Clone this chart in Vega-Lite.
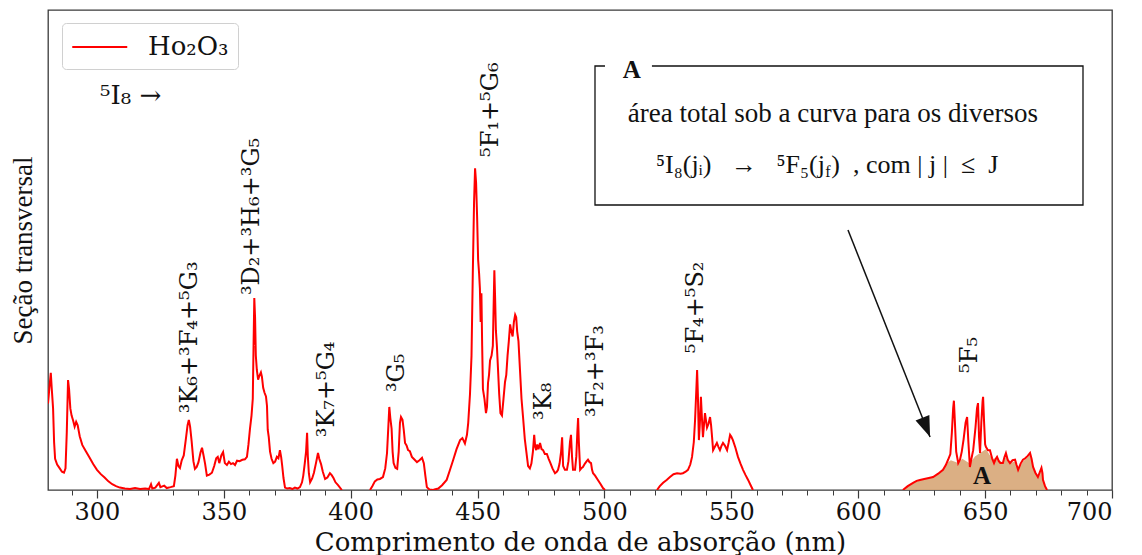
{
  "$schema": "https://vega.github.io/schema/vega-lite/v6.json",
  "width": 1064,
  "height": 480,
  "autosize": {"type": "none"},
  "padding": {"left": 48, "top": 10, "right": 30, "bottom": 65},
  "background": "white",
  "config": {
    "view": {"stroke": "#3a3a3a", "strokeWidth": 1.3},
    "font": "DejaVu Serif"
  },
  "datasets": {
    "spectrum": [
      {"seg": 1, "nm": 280.7, "sigma": 18}, {"seg": 1, "nm": 281.2, "sigma": 21}, {"seg": 1, "nm": 281.8, "sigma": 24.4},
      {"seg": 1, "nm": 282.2, "sigma": 21}, {"seg": 1, "nm": 282.7, "sigma": 17}, {"seg": 1, "nm": 283.1, "sigma": 10},
      {"seg": 1, "nm": 283.5, "sigma": 6.5}, {"seg": 1, "nm": 284.3, "sigma": 5.3}, {"seg": 1, "nm": 285.2, "sigma": 4.6},
      {"seg": 1, "nm": 286.2, "sigma": 3.8}, {"seg": 1, "nm": 287.0, "sigma": 3.6}, {"seg": 1, "nm": 287.6, "sigma": 4.5},
      {"seg": 1, "nm": 288.1, "sigma": 12}, {"seg": 1, "nm": 288.6, "sigma": 22.9}, {"seg": 1, "nm": 289.0, "sigma": 21},
      {"seg": 1, "nm": 289.5, "sigma": 17}, {"seg": 1, "nm": 290.0, "sigma": 15.5}, {"seg": 1, "nm": 290.6, "sigma": 14.5},
      {"seg": 1, "nm": 291.2, "sigma": 13.2}, {"seg": 1, "nm": 291.8, "sigma": 14.2}, {"seg": 1, "nm": 292.4, "sigma": 13.5},
      {"seg": 1, "nm": 293.2, "sigma": 11.2}, {"seg": 1, "nm": 294.2, "sigma": 9.4}, {"seg": 1, "nm": 295.5, "sigma": 8.2},
      {"seg": 1, "nm": 297.0, "sigma": 6.8}, {"seg": 1, "nm": 298.5, "sigma": 5.4}, {"seg": 1, "nm": 300.0, "sigma": 4.2},
      {"seg": 1, "nm": 301.5, "sigma": 3.3}, {"seg": 1, "nm": 303.0, "sigma": 2.6}, {"seg": 1, "nm": 304.5, "sigma": 1.8},
      {"seg": 1, "nm": 306.0, "sigma": 1.2}, {"seg": 1, "nm": 307.5, "sigma": 0.8}, {"seg": 1, "nm": 309.0, "sigma": 0.5},
      {"seg": 1, "nm": 311.0, "sigma": 0.3}, {"seg": 1, "nm": 313.0, "sigma": 0.2}, {"seg": 1, "nm": 315.0, "sigma": 0.4},
      {"seg": 1, "nm": 317.0, "sigma": 0.2}, {"seg": 1, "nm": 319.0, "sigma": 0.3}, {"seg": 1, "nm": 320.5, "sigma": 0.2},
      {"seg": 1, "nm": 321.3, "sigma": 1.2}, {"seg": 1, "nm": 321.8, "sigma": 0.3}, {"seg": 1, "nm": 323.0, "sigma": 0.5},
      {"seg": 1, "nm": 324.4, "sigma": 1.5}, {"seg": 1, "nm": 325.0, "sigma": 0.6}, {"seg": 1, "nm": 326.5, "sigma": 0.9},
      {"seg": 1, "nm": 327.5, "sigma": 0.4}, {"seg": 1, "nm": 329.0, "sigma": 0.6}, {"seg": 1, "nm": 330.3, "sigma": 0.8},
      {"seg": 1, "nm": 330.9, "sigma": 3}, {"seg": 1, "nm": 331.5, "sigma": 6.5}, {"seg": 1, "nm": 332.1, "sigma": 5},
      {"seg": 1, "nm": 332.7, "sigma": 4.6}, {"seg": 1, "nm": 333.4, "sigma": 6.2}, {"seg": 1, "nm": 334.2, "sigma": 7.2},
      {"seg": 1, "nm": 335.0, "sigma": 10.5}, {"seg": 1, "nm": 335.7, "sigma": 13.5}, {"seg": 1, "nm": 336.2, "sigma": 14.6},
      {"seg": 1, "nm": 336.7, "sigma": 13.2}, {"seg": 1, "nm": 337.3, "sigma": 10.2}, {"seg": 1, "nm": 338.0, "sigma": 6},
      {"seg": 1, "nm": 338.6, "sigma": 4.4}, {"seg": 1, "nm": 339.3, "sigma": 4.8}, {"seg": 1, "nm": 340.0, "sigma": 5.8},
      {"seg": 1, "nm": 340.8, "sigma": 7.8}, {"seg": 1, "nm": 341.4, "sigma": 8.8}, {"seg": 1, "nm": 342.0, "sigma": 7.2},
      {"seg": 1, "nm": 342.6, "sigma": 5.5}, {"seg": 1, "nm": 343.3, "sigma": 3}, {"seg": 1, "nm": 344.3, "sigma": 3.2},
      {"seg": 1, "nm": 345.3, "sigma": 3.6}, {"seg": 1, "nm": 346.2, "sigma": 5}, {"seg": 1, "nm": 347.0, "sigma": 6.6},
      {"seg": 1, "nm": 347.6, "sigma": 6.9}, {"seg": 1, "nm": 348.2, "sigma": 5.6}, {"seg": 1, "nm": 349.0, "sigma": 7.2},
      {"seg": 1, "nm": 349.7, "sigma": 7.9}, {"seg": 1, "nm": 350.4, "sigma": 5.6}, {"seg": 1, "nm": 351.2, "sigma": 5.2},
      {"seg": 1, "nm": 352.0, "sigma": 5.9}, {"seg": 1, "nm": 352.8, "sigma": 5.4}, {"seg": 1, "nm": 353.6, "sigma": 5.6},
      {"seg": 1, "nm": 354.4, "sigma": 5.2}, {"seg": 1, "nm": 355.2, "sigma": 6.1}, {"seg": 1, "nm": 356.2, "sigma": 6},
      {"seg": 1, "nm": 357.3, "sigma": 6.3}, {"seg": 1, "nm": 358.3, "sigma": 6.4}, {"seg": 1, "nm": 359.1, "sigma": 6.9},
      {"seg": 1, "nm": 359.7, "sigma": 9.5}, {"seg": 1, "nm": 360.3, "sigma": 12.8}, {"seg": 1, "nm": 360.9, "sigma": 15.5},
      {"seg": 1, "nm": 361.4, "sigma": 19}, {"seg": 1, "nm": 361.7, "sigma": 30}, {"seg": 1, "nm": 362.0, "sigma": 40},
      {"seg": 1, "nm": 362.3, "sigma": 36}, {"seg": 1, "nm": 362.6, "sigma": 28}, {"seg": 1, "nm": 363.0, "sigma": 25},
      {"seg": 1, "nm": 363.5, "sigma": 23}, {"seg": 1, "nm": 364.0, "sigma": 23.8}, {"seg": 1, "nm": 364.6, "sigma": 24.5},
      {"seg": 1, "nm": 365.0, "sigma": 23.6}, {"seg": 1, "nm": 365.5, "sigma": 21.3}, {"seg": 1, "nm": 366.0, "sigma": 20.3},
      {"seg": 1, "nm": 366.6, "sigma": 19.5}, {"seg": 1, "nm": 367.0, "sigma": 17.5}, {"seg": 1, "nm": 367.3, "sigma": 12.5},
      {"seg": 1, "nm": 367.7, "sigma": 11}, {"seg": 1, "nm": 368.2, "sigma": 8}, {"seg": 1, "nm": 368.8, "sigma": 6.5},
      {"seg": 1, "nm": 369.5, "sigma": 5.6}, {"seg": 1, "nm": 370.2, "sigma": 5.9}, {"seg": 1, "nm": 370.9, "sigma": 6.9},
      {"seg": 1, "nm": 371.5, "sigma": 6.6}, {"seg": 1, "nm": 372.1, "sigma": 8.3}, {"seg": 1, "nm": 372.6, "sigma": 6.8},
      {"seg": 1, "nm": 373.0, "sigma": 5}, {"seg": 1, "nm": 373.5, "sigma": 2.5}, {"seg": 1, "nm": 374.1, "sigma": 0.5},
      {"seg": 1, "nm": 375.0, "sigma": 0.3}, {"seg": 1, "nm": 376.0, "sigma": 0.4}, {"seg": 1, "nm": 377.0, "sigma": 0.2},
      {"seg": 1, "nm": 378.0, "sigma": 0.5}, {"seg": 1, "nm": 379.0, "sigma": 0.3}, {"seg": 1, "nm": 380.0, "sigma": 0.6},
      {"seg": 1, "nm": 380.8, "sigma": 1.6}, {"seg": 1, "nm": 381.3, "sigma": 3}, {"seg": 1, "nm": 381.9, "sigma": 5.6},
      {"seg": 1, "nm": 382.4, "sigma": 8}, {"seg": 1, "nm": 382.8, "sigma": 11.9}, {"seg": 1, "nm": 383.1, "sigma": 7},
      {"seg": 1, "nm": 383.5, "sigma": 3.5}, {"seg": 1, "nm": 384.0, "sigma": 1.6}, {"seg": 1, "nm": 384.8, "sigma": 2.4},
      {"seg": 1, "nm": 385.5, "sigma": 3.6}, {"seg": 1, "nm": 386.3, "sigma": 5.6}, {"seg": 1, "nm": 387.1, "sigma": 7.7},
      {"seg": 1, "nm": 387.6, "sigma": 6.5}, {"seg": 1, "nm": 388.3, "sigma": 5.4}, {"seg": 1, "nm": 389.0, "sigma": 3.8},
      {"seg": 1, "nm": 389.9, "sigma": 2.3}, {"seg": 1, "nm": 390.8, "sigma": 2.6}, {"seg": 1, "nm": 391.8, "sigma": 3.5},
      {"seg": 1, "nm": 392.5, "sigma": 3.1}, {"seg": 1, "nm": 393.2, "sigma": 2.5}, {"seg": 1, "nm": 394.0, "sigma": 1.6},
      {"seg": 1, "nm": 395.0, "sigma": 1.0}, {"seg": 1, "nm": 396.5, "sigma": 0},

      {"seg": 2, "nm": 407.6, "sigma": 0}, {"seg": 2, "nm": 408.5, "sigma": 0.8}, {"seg": 2, "nm": 409.5, "sigma": 1.8},
      {"seg": 2, "nm": 410.5, "sigma": 2.2}, {"seg": 2, "nm": 411.5, "sigma": 2.3}, {"seg": 2, "nm": 412.7, "sigma": 2.7},
      {"seg": 2, "nm": 413.6, "sigma": 4.5}, {"seg": 2, "nm": 414.3, "sigma": 7.7}, {"seg": 2, "nm": 414.8, "sigma": 13},
      {"seg": 2, "nm": 415.2, "sigma": 17.3}, {"seg": 2, "nm": 415.6, "sigma": 15}, {"seg": 2, "nm": 416.1, "sigma": 12.8},
      {"seg": 2, "nm": 416.5, "sigma": 8}, {"seg": 2, "nm": 416.9, "sigma": 5.6}, {"seg": 2, "nm": 417.6, "sigma": 4.6},
      {"seg": 2, "nm": 418.3, "sigma": 4.4}, {"seg": 2, "nm": 418.9, "sigma": 8}, {"seg": 2, "nm": 419.4, "sigma": 14},
      {"seg": 2, "nm": 419.8, "sigma": 15.2}, {"seg": 2, "nm": 420.4, "sigma": 14.6}, {"seg": 2, "nm": 420.9, "sigma": 12.5},
      {"seg": 2, "nm": 421.4, "sigma": 9.8}, {"seg": 2, "nm": 422.0, "sigma": 9.3}, {"seg": 2, "nm": 422.6, "sigma": 8.3},
      {"seg": 2, "nm": 423.3, "sigma": 8.1}, {"seg": 2, "nm": 424.1, "sigma": 6.9}, {"seg": 2, "nm": 425.0, "sigma": 6.4},
      {"seg": 2, "nm": 426.1, "sigma": 5.8}, {"seg": 2, "nm": 427.1, "sigma": 6.2}, {"seg": 2, "nm": 428.1, "sigma": 6.7},
      {"seg": 2, "nm": 428.8, "sigma": 5.6}, {"seg": 2, "nm": 429.4, "sigma": 3}, {"seg": 2, "nm": 430.0, "sigma": 0.6},
      {"seg": 2, "nm": 431.0, "sigma": 0.1}, {"seg": 2, "nm": 432.5, "sigma": 0}, {"seg": 2, "nm": 433.0, "sigma": 0.1},
      {"seg": 2, "nm": 434.5, "sigma": 0.3}, {"seg": 2, "nm": 436.0, "sigma": 1}, {"seg": 2, "nm": 437.8, "sigma": 2.1},
      {"seg": 2, "nm": 439.0, "sigma": 4}, {"seg": 2, "nm": 440.4, "sigma": 6.3}, {"seg": 2, "nm": 441.7, "sigma": 8.5},
      {"seg": 2, "nm": 443.1, "sigma": 10.4}, {"seg": 2, "nm": 444.0, "sigma": 10.8}, {"seg": 2, "nm": 445.0, "sigma": 9.7},
      {"seg": 2, "nm": 445.8, "sigma": 11.5}, {"seg": 2, "nm": 446.3, "sigma": 14}, {"seg": 2, "nm": 447.0, "sigma": 20},
      {"seg": 2, "nm": 447.6, "sigma": 28}, {"seg": 2, "nm": 448.1, "sigma": 45}, {"seg": 2, "nm": 448.6, "sigma": 60},
      {"seg": 2, "nm": 449.0, "sigma": 67}, {"seg": 2, "nm": 449.4, "sigma": 64}, {"seg": 2, "nm": 449.8, "sigma": 57},
      {"seg": 2, "nm": 450.2, "sigma": 48}, {"seg": 2, "nm": 450.6, "sigma": 45}, {"seg": 2, "nm": 450.9, "sigma": 42},
      {"seg": 2, "nm": 451.2, "sigma": 35}, {"seg": 2, "nm": 451.5, "sigma": 41}, {"seg": 2, "nm": 451.8, "sigma": 30},
      {"seg": 2, "nm": 452.1, "sigma": 21}, {"seg": 2, "nm": 452.7, "sigma": 19}, {"seg": 2, "nm": 453.3, "sigma": 16},
      {"seg": 2, "nm": 453.7, "sigma": 17.3}, {"seg": 2, "nm": 454.1, "sigma": 22.3}, {"seg": 2, "nm": 454.5, "sigma": 24},
      {"seg": 2, "nm": 454.9, "sigma": 27}, {"seg": 2, "nm": 455.5, "sigma": 28}, {"seg": 2, "nm": 456.0, "sigma": 30},
      {"seg": 2, "nm": 456.3, "sigma": 38}, {"seg": 2, "nm": 456.6, "sigma": 45.8}, {"seg": 2, "nm": 456.9, "sigma": 40},
      {"seg": 2, "nm": 457.2, "sigma": 33.3}, {"seg": 2, "nm": 457.6, "sigma": 30}, {"seg": 2, "nm": 458.0, "sigma": 25.6},
      {"seg": 2, "nm": 458.5, "sigma": 20}, {"seg": 2, "nm": 459.0, "sigma": 16}, {"seg": 2, "nm": 459.6, "sigma": 15.5},
      {"seg": 2, "nm": 460.2, "sigma": 19}, {"seg": 2, "nm": 460.8, "sigma": 22.5}, {"seg": 2, "nm": 461.3, "sigma": 24},
      {"seg": 2, "nm": 461.8, "sigma": 28}, {"seg": 2, "nm": 462.3, "sigma": 31}, {"seg": 2, "nm": 462.8, "sigma": 34.5},
      {"seg": 2, "nm": 463.3, "sigma": 33}, {"seg": 2, "nm": 463.8, "sigma": 32}, {"seg": 2, "nm": 464.3, "sigma": 35},
      {"seg": 2, "nm": 464.8, "sigma": 36.5}, {"seg": 2, "nm": 465.2, "sigma": 36}, {"seg": 2, "nm": 465.6, "sigma": 33},
      {"seg": 2, "nm": 466.1, "sigma": 31}, {"seg": 2, "nm": 466.7, "sigma": 25}, {"seg": 2, "nm": 467.3, "sigma": 19},
      {"seg": 2, "nm": 467.9, "sigma": 15.2}, {"seg": 2, "nm": 468.6, "sigma": 10.6}, {"seg": 2, "nm": 469.2, "sigma": 8},
      {"seg": 2, "nm": 469.9, "sigma": 5}, {"seg": 2, "nm": 470.6, "sigma": 4.5}, {"seg": 2, "nm": 471.2, "sigma": 5.5},
      {"seg": 2, "nm": 471.8, "sigma": 8}, {"seg": 2, "nm": 472.3, "sigma": 11.5}, {"seg": 2, "nm": 472.7, "sigma": 9},
      {"seg": 2, "nm": 473.1, "sigma": 8.3}, {"seg": 2, "nm": 473.5, "sigma": 9.5}, {"seg": 2, "nm": 474.0, "sigma": 8.5},
      {"seg": 2, "nm": 474.6, "sigma": 9.8}, {"seg": 2, "nm": 475.2, "sigma": 8.5}, {"seg": 2, "nm": 475.8, "sigma": 8.3},
      {"seg": 2, "nm": 476.5, "sigma": 7.5}, {"seg": 2, "nm": 477.3, "sigma": 7.5}, {"seg": 2, "nm": 478.0, "sigma": 6.5},
      {"seg": 2, "nm": 478.7, "sigma": 5.6}, {"seg": 2, "nm": 479.5, "sigma": 4.5}, {"seg": 2, "nm": 480.5, "sigma": 3.5},
      {"seg": 2, "nm": 481.2, "sigma": 3.8}, {"seg": 2, "nm": 481.7, "sigma": 4.2}, {"seg": 2, "nm": 482.3, "sigma": 5.5},
      {"seg": 2, "nm": 482.9, "sigma": 8}, {"seg": 2, "nm": 483.3, "sigma": 11}, {"seg": 2, "nm": 483.7, "sigma": 5},
      {"seg": 2, "nm": 484.4, "sigma": 4.2}, {"seg": 2, "nm": 485.2, "sigma": 4.2}, {"seg": 2, "nm": 485.8, "sigma": 6},
      {"seg": 2, "nm": 486.4, "sigma": 10}, {"seg": 2, "nm": 486.8, "sigma": 11.5}, {"seg": 2, "nm": 487.2, "sigma": 7},
      {"seg": 2, "nm": 487.6, "sigma": 4.2}, {"seg": 2, "nm": 488.4, "sigma": 4.2}, {"seg": 2, "nm": 488.9, "sigma": 7},
      {"seg": 2, "nm": 489.3, "sigma": 12}, {"seg": 2, "nm": 489.6, "sigma": 15}, {"seg": 2, "nm": 489.9, "sigma": 10},
      {"seg": 2, "nm": 490.4, "sigma": 4.2}, {"seg": 2, "nm": 491.0, "sigma": 4.6}, {"seg": 2, "nm": 491.5, "sigma": 4.8},
      {"seg": 2, "nm": 492.3, "sigma": 5.5}, {"seg": 2, "nm": 493.0, "sigma": 6}, {"seg": 2, "nm": 493.5, "sigma": 6.3},
      {"seg": 2, "nm": 494.1, "sigma": 5.8}, {"seg": 2, "nm": 494.7, "sigma": 5.6}, {"seg": 2, "nm": 495.1, "sigma": 4.2},
      {"seg": 2, "nm": 495.5, "sigma": 3.5}, {"seg": 2, "nm": 496.3, "sigma": 3}, {"seg": 2, "nm": 497.4, "sigma": 2.1},
      {"seg": 2, "nm": 498.5, "sigma": 1.2}, {"seg": 2, "nm": 499.4, "sigma": 0.4}, {"seg": 2, "nm": 500.2, "sigma": 0},

      {"seg": 3, "nm": 520.7, "sigma": 0}, {"seg": 3, "nm": 521.8, "sigma": 0.8}, {"seg": 3, "nm": 523.1, "sigma": 1.5},
      {"seg": 3, "nm": 524.5, "sigma": 2.1}, {"seg": 3, "nm": 525.8, "sigma": 2.7}, {"seg": 3, "nm": 527.2, "sigma": 3.3},
      {"seg": 3, "nm": 528.6, "sigma": 3.5}, {"seg": 3, "nm": 530.0, "sigma": 3.4}, {"seg": 3, "nm": 530.9, "sigma": 3.5},
      {"seg": 3, "nm": 532.0, "sigma": 3.8}, {"seg": 3, "nm": 532.9, "sigma": 4.2}, {"seg": 3, "nm": 533.8, "sigma": 5.3},
      {"seg": 3, "nm": 534.5, "sigma": 6.9}, {"seg": 3, "nm": 535.2, "sigma": 10}, {"seg": 3, "nm": 535.7, "sigma": 14.6},
      {"seg": 3, "nm": 536.2, "sigma": 21}, {"seg": 3, "nm": 536.5, "sigma": 25}, {"seg": 3, "nm": 536.8, "sigma": 20},
      {"seg": 3, "nm": 537.0, "sigma": 15}, {"seg": 3, "nm": 537.2, "sigma": 10.4}, {"seg": 3, "nm": 537.6, "sigma": 14},
      {"seg": 3, "nm": 538.0, "sigma": 19.4}, {"seg": 3, "nm": 538.4, "sigma": 15}, {"seg": 3, "nm": 538.8, "sigma": 11},
      {"seg": 3, "nm": 539.2, "sigma": 13.5}, {"seg": 3, "nm": 539.6, "sigma": 16}, {"seg": 3, "nm": 540.0, "sigma": 14.5},
      {"seg": 3, "nm": 540.4, "sigma": 13}, {"seg": 3, "nm": 541.0, "sigma": 13.8}, {"seg": 3, "nm": 541.6, "sigma": 15.2},
      {"seg": 3, "nm": 542.0, "sigma": 13.5}, {"seg": 3, "nm": 542.4, "sigma": 11}, {"seg": 3, "nm": 542.8, "sigma": 8.3},
      {"seg": 3, "nm": 543.5, "sigma": 9}, {"seg": 3, "nm": 544.3, "sigma": 9.8}, {"seg": 3, "nm": 544.9, "sigma": 9},
      {"seg": 3, "nm": 545.5, "sigma": 8.3}, {"seg": 3, "nm": 546.1, "sigma": 9.2}, {"seg": 3, "nm": 546.7, "sigma": 9.8},
      {"seg": 3, "nm": 547.5, "sigma": 9.2}, {"seg": 3, "nm": 548.3, "sigma": 8.3}, {"seg": 3, "nm": 548.9, "sigma": 9.8},
      {"seg": 3, "nm": 549.5, "sigma": 11.5}, {"seg": 3, "nm": 550.0, "sigma": 11.1}, {"seg": 3, "nm": 550.6, "sigma": 10.4},
      {"seg": 3, "nm": 551.6, "sigma": 8.8}, {"seg": 3, "nm": 552.6, "sigma": 6.9}, {"seg": 3, "nm": 553.6, "sigma": 5.5},
      {"seg": 3, "nm": 554.6, "sigma": 4.2}, {"seg": 3, "nm": 555.6, "sigma": 3.1}, {"seg": 3, "nm": 556.6, "sigma": 2.1},
      {"seg": 3, "nm": 557.6, "sigma": 1}, {"seg": 3, "nm": 558.5, "sigma": 0},

      {"seg": 4, "nm": 617.6, "sigma": 0}, {"seg": 4, "nm": 619.5, "sigma": 0.8}, {"seg": 4, "nm": 621.6, "sigma": 1.5},
      {"seg": 4, "nm": 623.0, "sigma": 1.9}, {"seg": 4, "nm": 624.3, "sigma": 2.1}, {"seg": 4, "nm": 626.0, "sigma": 2.3},
      {"seg": 4, "nm": 627.8, "sigma": 2.5}, {"seg": 4, "nm": 629.5, "sigma": 2.7}, {"seg": 4, "nm": 631.5, "sigma": 3.4},
      {"seg": 4, "nm": 633.4, "sigma": 4.2}, {"seg": 4, "nm": 634.5, "sigma": 5.2}, {"seg": 4, "nm": 635.4, "sigma": 6.3},
      {"seg": 4, "nm": 636.3, "sigma": 7.5}, {"seg": 4, "nm": 636.9, "sigma": 12}, {"seg": 4, "nm": 637.4, "sigma": 17},
      {"seg": 4, "nm": 637.7, "sigma": 18.6}, {"seg": 4, "nm": 638.1, "sigma": 14}, {"seg": 4, "nm": 638.6, "sigma": 8},
      {"seg": 4, "nm": 639.4, "sigma": 5.6}, {"seg": 4, "nm": 640.1, "sigma": 6.3}, {"seg": 4, "nm": 640.8, "sigma": 8},
      {"seg": 4, "nm": 641.5, "sigma": 10.5}, {"seg": 4, "nm": 642.3, "sigma": 14}, {"seg": 4, "nm": 642.9, "sigma": 15.2},
      {"seg": 4, "nm": 643.4, "sigma": 10}, {"seg": 4, "nm": 644.0, "sigma": 4.8}, {"seg": 4, "nm": 644.6, "sigma": 6.5},
      {"seg": 4, "nm": 645.3, "sigma": 8.3}, {"seg": 4, "nm": 646.2, "sigma": 13}, {"seg": 4, "nm": 646.8, "sigma": 17},
      {"seg": 4, "nm": 647.2, "sigma": 18.1}, {"seg": 4, "nm": 647.6, "sigma": 11}, {"seg": 4, "nm": 648.0, "sigma": 7.7},
      {"seg": 4, "nm": 648.5, "sigma": 14}, {"seg": 4, "nm": 649.0, "sigma": 18.5}, {"seg": 4, "nm": 649.2, "sigma": 19.4},
      {"seg": 4, "nm": 649.6, "sigma": 14}, {"seg": 4, "nm": 650.0, "sigma": 9.5}, {"seg": 4, "nm": 650.3, "sigma": 9},
      {"seg": 4, "nm": 651.1, "sigma": 8.3}, {"seg": 4, "nm": 651.9, "sigma": 8.3}, {"seg": 4, "nm": 652.8, "sigma": 6.5},
      {"seg": 4, "nm": 653.5, "sigma": 5.6}, {"seg": 4, "nm": 654.1, "sigma": 6.4}, {"seg": 4, "nm": 654.7, "sigma": 6.9},
      {"seg": 4, "nm": 655.4, "sigma": 6}, {"seg": 4, "nm": 656.0, "sigma": 5.6}, {"seg": 4, "nm": 657.0, "sigma": 5.6},
      {"seg": 4, "nm": 657.6, "sigma": 6.8}, {"seg": 4, "nm": 658.2, "sigma": 7.7}, {"seg": 4, "nm": 658.9, "sigma": 6.3},
      {"seg": 4, "nm": 659.8, "sigma": 5.6}, {"seg": 4, "nm": 660.8, "sigma": 6.2}, {"seg": 4, "nm": 661.8, "sigma": 6.3},
      {"seg": 4, "nm": 662.4, "sigma": 5.2}, {"seg": 4, "nm": 663.0, "sigma": 4.2}, {"seg": 4, "nm": 664.0, "sigma": 5.5},
      {"seg": 4, "nm": 664.9, "sigma": 6.3}, {"seg": 4, "nm": 665.8, "sigma": 6.6}, {"seg": 4, "nm": 666.8, "sigma": 7.1},
      {"seg": 4, "nm": 667.7, "sigma": 7.7}, {"seg": 4, "nm": 668.3, "sigma": 6.5}, {"seg": 4, "nm": 668.9, "sigma": 4.8},
      {"seg": 4, "nm": 669.8, "sigma": 3.6}, {"seg": 4, "nm": 670.8, "sigma": 2.7}, {"seg": 4, "nm": 671.6, "sigma": 3.8},
      {"seg": 4, "nm": 672.2, "sigma": 4.6}, {"seg": 4, "nm": 672.6, "sigma": 3.5}, {"seg": 4, "nm": 672.8, "sigma": 2.1},
      {"seg": 4, "nm": 673.6, "sigma": 0.8}, {"seg": 4, "nm": 674.4, "sigma": 0}
    ],
    "areaA": [
      {"nm": 617.6, "sigma": 0}, {"nm": 621.6, "sigma": 1.5}, {"nm": 625.0, "sigma": 2.2}, {"nm": 629.5, "sigma": 2.7},
      {"nm": 633.4, "sigma": 4.2}, {"nm": 635.4, "sigma": 5.8}, {"nm": 636.5, "sigma": 6.2}, {"nm": 639.4, "sigma": 5.6},
      {"nm": 641.0, "sigma": 6.5}, {"nm": 644.0, "sigma": 5.5}, {"nm": 646.0, "sigma": 7}, {"nm": 648.0, "sigma": 7.7},
      {"nm": 650.3, "sigma": 8.5}, {"nm": 652.8, "sigma": 6.5}, {"nm": 654.7, "sigma": 6.6}, {"nm": 657.0, "sigma": 5.6},
      {"nm": 658.2, "sigma": 7}, {"nm": 660.0, "sigma": 5.6}, {"nm": 662.0, "sigma": 6}, {"nm": 663.0, "sigma": 4.2},
      {"nm": 665.0, "sigma": 6}, {"nm": 667.7, "sigma": 7.3}, {"nm": 668.9, "sigma": 4.8}, {"nm": 670.8, "sigma": 2.7},
      {"nm": 672.2, "sigma": 4.3}, {"nm": 672.8, "sigma": 2.1}, {"nm": 674.4, "sigma": 0}
    ],
    "transitions": [
      {"nm": 336.5, "sigma": 16.0, "label": "³K₆+³F₄+⁵G₃"},
      {"nm": 361.1, "sigma": 40.6, "label": "³D₂+³H₆+³G₅"},
      {"nm": 390.6, "sigma": 11.0, "label": "³K₇+⁵G₄"},
      {"nm": 418.2, "sigma": 20.4, "label": "³G₅"},
      {"nm": 455.3, "sigma": 69.4, "label": "⁵F₁+⁵G₆"},
      {"nm": 476.2, "sigma": 14.6, "label": "³K₈"},
      {"nm": 496.7, "sigma": 15.2, "label": "³F₂+³F₃"},
      {"nm": 536.1, "sigma": 28.5, "label": "⁵F₄+⁵S₂"},
      {"nm": 644.0, "sigma": 24.4, "label": "⁵F₅"}
    ],
    "frameA": [
      {"k": 1, "nm": 500.2, "sigma": 88.33},
      {"k": 2, "nm": 496.26, "sigma": 88.33},
      {"k": 3, "nm": 496.26, "sigma": 59.38},
      {"k": 4, "nm": 688.57, "sigma": 59.38},
      {"k": 5, "nm": 688.57, "sigma": 88.33},
      {"k": 6, "nm": 518.7, "sigma": 88.33}
    ],
    "arrow": [
      {"nm0": 595.96, "s0": 54.17, "nm1": 628.3, "s1": 11.04}
    ]
  },
  "layer": [
    {
      "data": {"name": "areaA"},
      "mark": {"type": "area", "color": "#d7a677", "opacity": 0.9},
      "encoding": {
        "x": {
          "field": "nm", "type": "quantitative",
          "scale": {"domain": [280.7, 700], "nice": false, "zero": false},
          "axis": {
            "orient": "bottom", "values": [290, 300, 310, 320, 330, 340, 350, 360, 370, 380, 390, 400, 410, 420, 430, 440, 450, 460, 470, 480, 490, 500, 510, 520, 530, 540, 550, 560, 570, 580, 590, 600, 610, 620, 630, 640, 650, 660, 670, 680, 690, 700],
            "labels": false, "domain": false, "grid": false, "title": null,
            "tickSize": 5, "tickColor": "#3a3a3a", "tickWidth": 1
          }
        },
        "y": {
          "field": "sigma", "type": "quantitative",
          "scale": {"domain": [0, 100], "nice": false},
          "axis": null
        }
      }
    },
    {
      "data": {"name": "spectrum"},
      "mark": {"type": "line", "strokeWidth": 2, "clip": true},
      "encoding": {
        "x": {
          "field": "nm", "type": "quantitative",
          "axis": {
            "orient": "bottom", "values": [300, 350, 400, 450, 500, 550, 600, 650, 700],
            "domain": false, "grid": false,
            "tickSize": 8, "tickColor": "#3a3a3a", "tickWidth": 1.2,
            "labelFont": "DejaVu Serif", "labelFontSize": 24, "labelColor": "#111", "labelPadding": 2,
            "title": "Comprimento de onda de absorção (nm)",
            "titleFont": "DejaVu Serif", "titleFontSize": 26, "titleFontWeight": "normal", "titleColor": "#111", "titlePadding": 5
          }
        },
        "y": {
          "field": "sigma", "type": "quantitative",
          "axis": {
            "orient": "left", "ticks": false, "labels": false, "domain": false, "grid": false,
            "title": "Seção transversal", "titleFont": "Liberation Serif", "titleFontSize": 27,
            "titleFontWeight": "normal", "titleColor": "#111", "titlePadding": 11
          }
        },
        "detail": {"field": "seg", "type": "nominal"},
        "color": {
          "datum": "Ho₂O₃", "type": "nominal",
          "scale": {"range": ["#ff0000"]},
          "legend": {
            "title": null, "orient": "none", "legendX": 14, "legendY": 13,
            "symbolType": "M-1,0L3,0", "symbolSize": 756, "symbolStrokeWidth": 2,
            "labelFont": "DejaVu Serif", "labelFontSize": 26, "labelColor": "#111", "labelOffset": 47,
            "padding": 9, "strokeColor": "#d0d0d0", "fillColor": "white", "cornerRadius": 4
          }
        }
      }
    },
    {
      "data": {"name": "frameA"},
      "mark": {"type": "line", "color": "#111", "strokeWidth": 1.3},
      "encoding": {
        "x": {"field": "nm", "type": "quantitative", "axis": null},
        "y": {"field": "sigma", "type": "quantitative", "axis": null},
        "order": {"field": "k", "type": "quantitative"}
      }
    },
    {
      "data": {"name": "arrow"},
      "mark": {"type": "rule", "color": "#111", "strokeWidth": 1.5},
      "encoding": {
        "x": {"field": "nm0", "type": "quantitative", "axis": null},
        "y": {"field": "s0", "type": "quantitative", "axis": null},
        "x2": {"field": "nm1"},
        "y2": {"field": "s1"}
      }
    },
    {
      "data": {"name": "arrow"},
      "mark": {"type": "point", "shape": "M0,0L-0.36,-1L0.36,-1Z", "filled": true, "color": "#111", "opacity": 1, "size": 1700, "angle": 338.4},
      "encoding": {
        "x": {"field": "nm1", "type": "quantitative", "axis": null},
        "y": {"field": "s1", "type": "quantitative", "axis": null}
      }
    },
    {
      "data": {"name": "transitions"},
      "mark": {"type": "text", "angle": 270, "align": "left", "baseline": "middle", "font": "DejaVu Serif", "fontSize": 24, "color": "#111"},
      "encoding": {
        "x": {"field": "nm", "type": "quantitative", "axis": null},
        "y": {"field": "sigma", "type": "quantitative", "axis": null},
        "text": {"field": "label"}
      }
    },
    {
      "data": {"values": [{"nm": 301.2, "sigma": 82.0, "label": "⁵I₈ →"}]},
      "mark": {"type": "text", "align": "left", "baseline": "middle", "font": "DejaVu Serif", "fontSize": 26, "color": "#111"},
      "encoding": {
        "x": {"field": "nm", "type": "quantitative", "axis": null},
        "y": {"field": "sigma", "type": "quantitative", "axis": null},
        "text": {"field": "label"}
      }
    },
    {
      "data": {"values": [
        {"nm": 510.8, "sigma": 87.5, "label": "A"},
        {"nm": 648.8, "sigma": 2.9, "label": "A"}
      ]},
      "mark": {"type": "text", "align": "center", "baseline": "middle", "font": "Liberation Serif", "fontWeight": "bold", "fontSize": 25, "color": "#111"},
      "encoding": {
        "x": {"field": "nm", "type": "quantitative", "axis": null},
        "y": {"field": "sigma", "type": "quantitative", "axis": null},
        "text": {"field": "label"}
      }
    },
    {
      "data": {"values": [
        {"nm": 590.0, "sigma": 78.3, "label": "área total sob a curva para os diversos"}
      ]},
      "mark": {"type": "text", "align": "center", "baseline": "middle", "font": "Liberation Serif", "fontSize": 27, "color": "#111"},
      "encoding": {
        "x": {"field": "nm", "type": "quantitative", "axis": null},
        "y": {"field": "sigma", "type": "quantitative", "axis": null},
        "text": {"field": "label"}
      }
    },
    {
      "data": {"values": [
        {"nm": 586.9, "sigma": 67.7, "label": "⁵I₈(jᵢ)\u00a0\u2002→\u2002\u00a0⁵F₅(j"}
      ]},
      "mark": {"type": "text", "align": "right", "baseline": "middle", "font": "Liberation Serif", "fontSize": 26, "color": "#111"},
      "encoding": {
        "x": {"field": "nm", "type": "quantitative", "axis": null},
        "y": {"field": "sigma", "type": "quantitative", "axis": null},
        "text": {"field": "label"}
      }
    },
    {
      "data": {"values": [
        {"nm": 587.0, "sigma": 66.3, "label": "f"}
      ]},
      "mark": {"type": "text", "align": "left", "baseline": "middle", "font": "Liberation Serif", "fontSize": 16, "color": "#111"},
      "encoding": {
        "x": {"field": "nm", "type": "quantitative", "axis": null},
        "y": {"field": "sigma", "type": "quantitative", "axis": null},
        "text": {"field": "label"}
      }
    },
    {
      "data": {"values": [
        {"nm": 589.4, "sigma": 67.7, "label": ")\u00a0\u00a0, com | j | \u00a0≤\u00a0 J"}
      ]},
      "mark": {"type": "text", "align": "left", "baseline": "middle", "font": "Liberation Serif", "fontSize": 26, "color": "#111"},
      "encoding": {
        "x": {"field": "nm", "type": "quantitative", "axis": null},
        "y": {"field": "sigma", "type": "quantitative", "axis": null},
        "text": {"field": "label"}
      }
    }
  ],
  "resolve": {"axis": {"x": "independent", "y": "independent"}}
}
